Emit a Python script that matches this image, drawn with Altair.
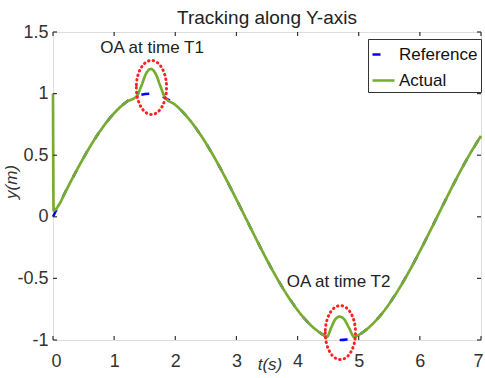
import altair as alt
import pandas as pd

FONT = "Liberation Sans"

# Reference trajectory
ref_t = [0.0, 0.2, 0.4, 0.6, 0.8, 1.0, 1.2, 1.4, 1.6, 1.8, 2.0, 2.2, 2.4, 2.6, 2.8, 3.0,
         3.2, 3.4, 3.6, 3.8, 4.0, 4.2, 4.4, 4.6, 4.7, 4.8, 5.0, 5.2, 5.4, 5.6, 5.8, 6.0,
         6.2, 6.4, 6.6, 6.8, 7.0]
ref_y = [0.0, 0.199, 0.389, 0.565, 0.717, 0.841, 0.932, 0.985, 1.0, 0.974, 0.909, 0.808,
         0.675, 0.516, 0.335, 0.141, -0.058, -0.256, -0.443, -0.612, -0.757, -0.872,
         -0.952, -0.994, -1.0, -0.996, -0.959, -0.883, -0.773, -0.631, -0.465, -0.279,
         -0.083, 0.117, 0.312, 0.494, 0.657]

# Actual trajectory
act_t = [0.0, 0.01, 0.1, 0.2, 0.4, 0.6, 0.8, 1.0, 1.2, 1.37, 1.45, 1.52, 1.6, 1.68, 1.75,
         1.83, 2.0, 2.2, 2.4, 2.6, 2.8, 3.0, 3.2, 3.4, 3.6, 3.8, 4.0, 4.2, 4.4, 4.48,
         4.55, 4.62, 4.69, 4.76, 4.84, 4.93, 5.0, 5.2, 5.4, 5.6, 5.8, 6.0, 6.2, 6.4,
         6.6, 6.8, 7.0]
act_y = [1.0, 0.05, 0.1, 0.199, 0.389, 0.565, 0.717, 0.841, 0.932, 0.98, 1.07, 1.16, 1.2,
         1.16, 1.07, 0.97, 0.909, 0.808, 0.675, 0.516, 0.335, 0.141, -0.058, -0.256,
         -0.443, -0.612, -0.757, -0.872, -0.952, -0.975, -0.9, -0.83, -0.81, -0.83,
         -0.9, -0.976, -0.959, -0.883, -0.773, -0.631, -0.465, -0.279, -0.083, 0.117,
         0.312, 0.494, 0.657]

# Obstacle-avoidance markers and labels
oa_t = [1.61, 4.70]
oa_y = [1.05, -0.94]
oa_label = ["OA at time T1", "OA at time T2"]
oa_label_t = [1.62, 4.67]
oa_label_y = [1.37, -0.53]

x_ticks = [0, 1, 2, 3, 4, 5, 6, 7]
y_ticks = [-1, -0.5, 0, 0.5, 1, 1.5]

W, H = 428, 308

ref_df = pd.DataFrame({"t": ref_t, "y": ref_y, "series": "Reference"})
act_df = pd.DataFrame({"t": act_t, "y": act_y, "series": "Actual"})
oa_df = pd.DataFrame({"t": oa_t, "y": oa_y})
lab_df = pd.DataFrame({"t": oa_label_t, "y": oa_label_y, "label": oa_label})
xt_df = pd.DataFrame({"t": x_ticks})
yt_df = pd.DataFrame({"y": y_ticks})

xscale = alt.Scale(domain=[0, 7], nice=False)
yscale = alt.Scale(domain=[-1, 1.5], nice=False)

x_axis = alt.Axis(values=x_ticks, title=None, grid=False, ticks=False, domain=False,
                  labelFontSize=18, labelFont=FONT, labelColor="#333", labelPadding=12,
                  labelFlush=True, labelFlushOffset=2, labelExpr="'' + datum.value")
y_axis = alt.Axis(values=y_ticks, title=None, grid=False, ticks=False, domain=False,
                  labelFontSize=18, labelFont=FONT, labelColor="#333", labelPadding=5,
                  labelExpr="'' + datum.value")

color = alt.Color("series:N",
                  scale=alt.Scale(domain=["Reference", "Actual"], range=["#0000ff", "#77ac30"]),
                  legend=alt.Legend(orient="none", legendX=315, legendY=7, title=None,
                                    labelFontSize=17, labelFont=FONT, labelColor="#111",
                                    symbolType="stroke", symbolSize=484, symbolStrokeWidth=2.5,
                                    padding=3, rowPadding=5, strokeColor="#333",
                                    fillColor="white", labelOffset=3))
dash = alt.StrokeDash("series:N",
                      scale=alt.Scale(domain=["Reference", "Actual"], range=[[8, 14], [1, 0]]),
                      legend=None)

ref_line = alt.Chart(ref_df).mark_line(strokeWidth=2.5, interpolate="monotone").encode(
    x=alt.X("t:Q", scale=xscale, axis=x_axis),
    y=alt.Y("y:Q", scale=yscale, axis=y_axis),
    color=color, strokeDash=dash)

act_line = alt.Chart(act_df).mark_line(strokeWidth=2.7, interpolate="monotone").encode(
    x="t:Q", y="y:Q", color=color, strokeDash=dash)

ellipse = "M -0.56 0 A 0.56 1 0 1 0 0.56 0 A 0.56 1 0 1 0 -0.56 0 Z"
ovals = alt.Chart(oa_df).mark_point(shape=ellipse, size=2916, filled=False, color="#ff2020",
                                    strokeWidth=3, strokeDash=[0.5, 4.2], strokeCap="round",
                                    opacity=1).encode(x="t:Q", y="y:Q")

labels = alt.Chart(lab_df).mark_text(fontSize=17, font=FONT, color="#222").encode(
    x="t:Q", y="y:Q", text="label:N")

tick_style = dict(color="#333", strokeWidth=1.2)
xt_bottom = alt.Chart(xt_df).mark_rule(**tick_style).encode(
    x="t:Q", y=alt.value(H), y2=alt.value(H - 4))
xt_top = alt.Chart(xt_df).mark_rule(**tick_style).encode(
    x="t:Q", y=alt.value(0), y2=alt.value(4))
yt_left = alt.Chart(yt_df).mark_rule(**tick_style).encode(
    y="y:Q", x=alt.value(0), x2=alt.value(4))
yt_right = alt.Chart(yt_df).mark_rule(**tick_style).encode(
    y="y:Q", x=alt.value(W), x2=alt.value(W - 4))

ytitle = alt.Chart(pd.DataFrame({"s": ["y(m)"]})).mark_text(
    fontSize=17, font=FONT, fontStyle="italic", color="#333", angle=270).encode(
    x=alt.value(-41), y=alt.value(150), text="s:N")
xtitle = alt.Chart(pd.DataFrame({"s": ["t(s)"]})).mark_text(
    fontSize=17, font=FONT, fontStyle="italic", color="#333").encode(
    x=alt.value(217), y=alt.value(333), text="s:N")

chart = alt.layer(ref_line, act_line, ovals, labels, xt_bottom, xt_top, yt_left, yt_right,
                  ytitle, xtitle).properties(
    width=W, height=H,
    title=alt.TitleParams("Tracking along Y-axis", fontSize=19, font=FONT,
                          fontWeight="normal", color="#222", offset=-5),
    autosize=alt.AutoSizeParams(type="none"),
    padding={"left": 53, "top": 32, "right": 4, "bottom": 38},
).configure_view(stroke="#333", strokeWidth=1.5).configure(background="white")

chart.save("out.html", embed_options={"renderer": "svg", "actions": False})
